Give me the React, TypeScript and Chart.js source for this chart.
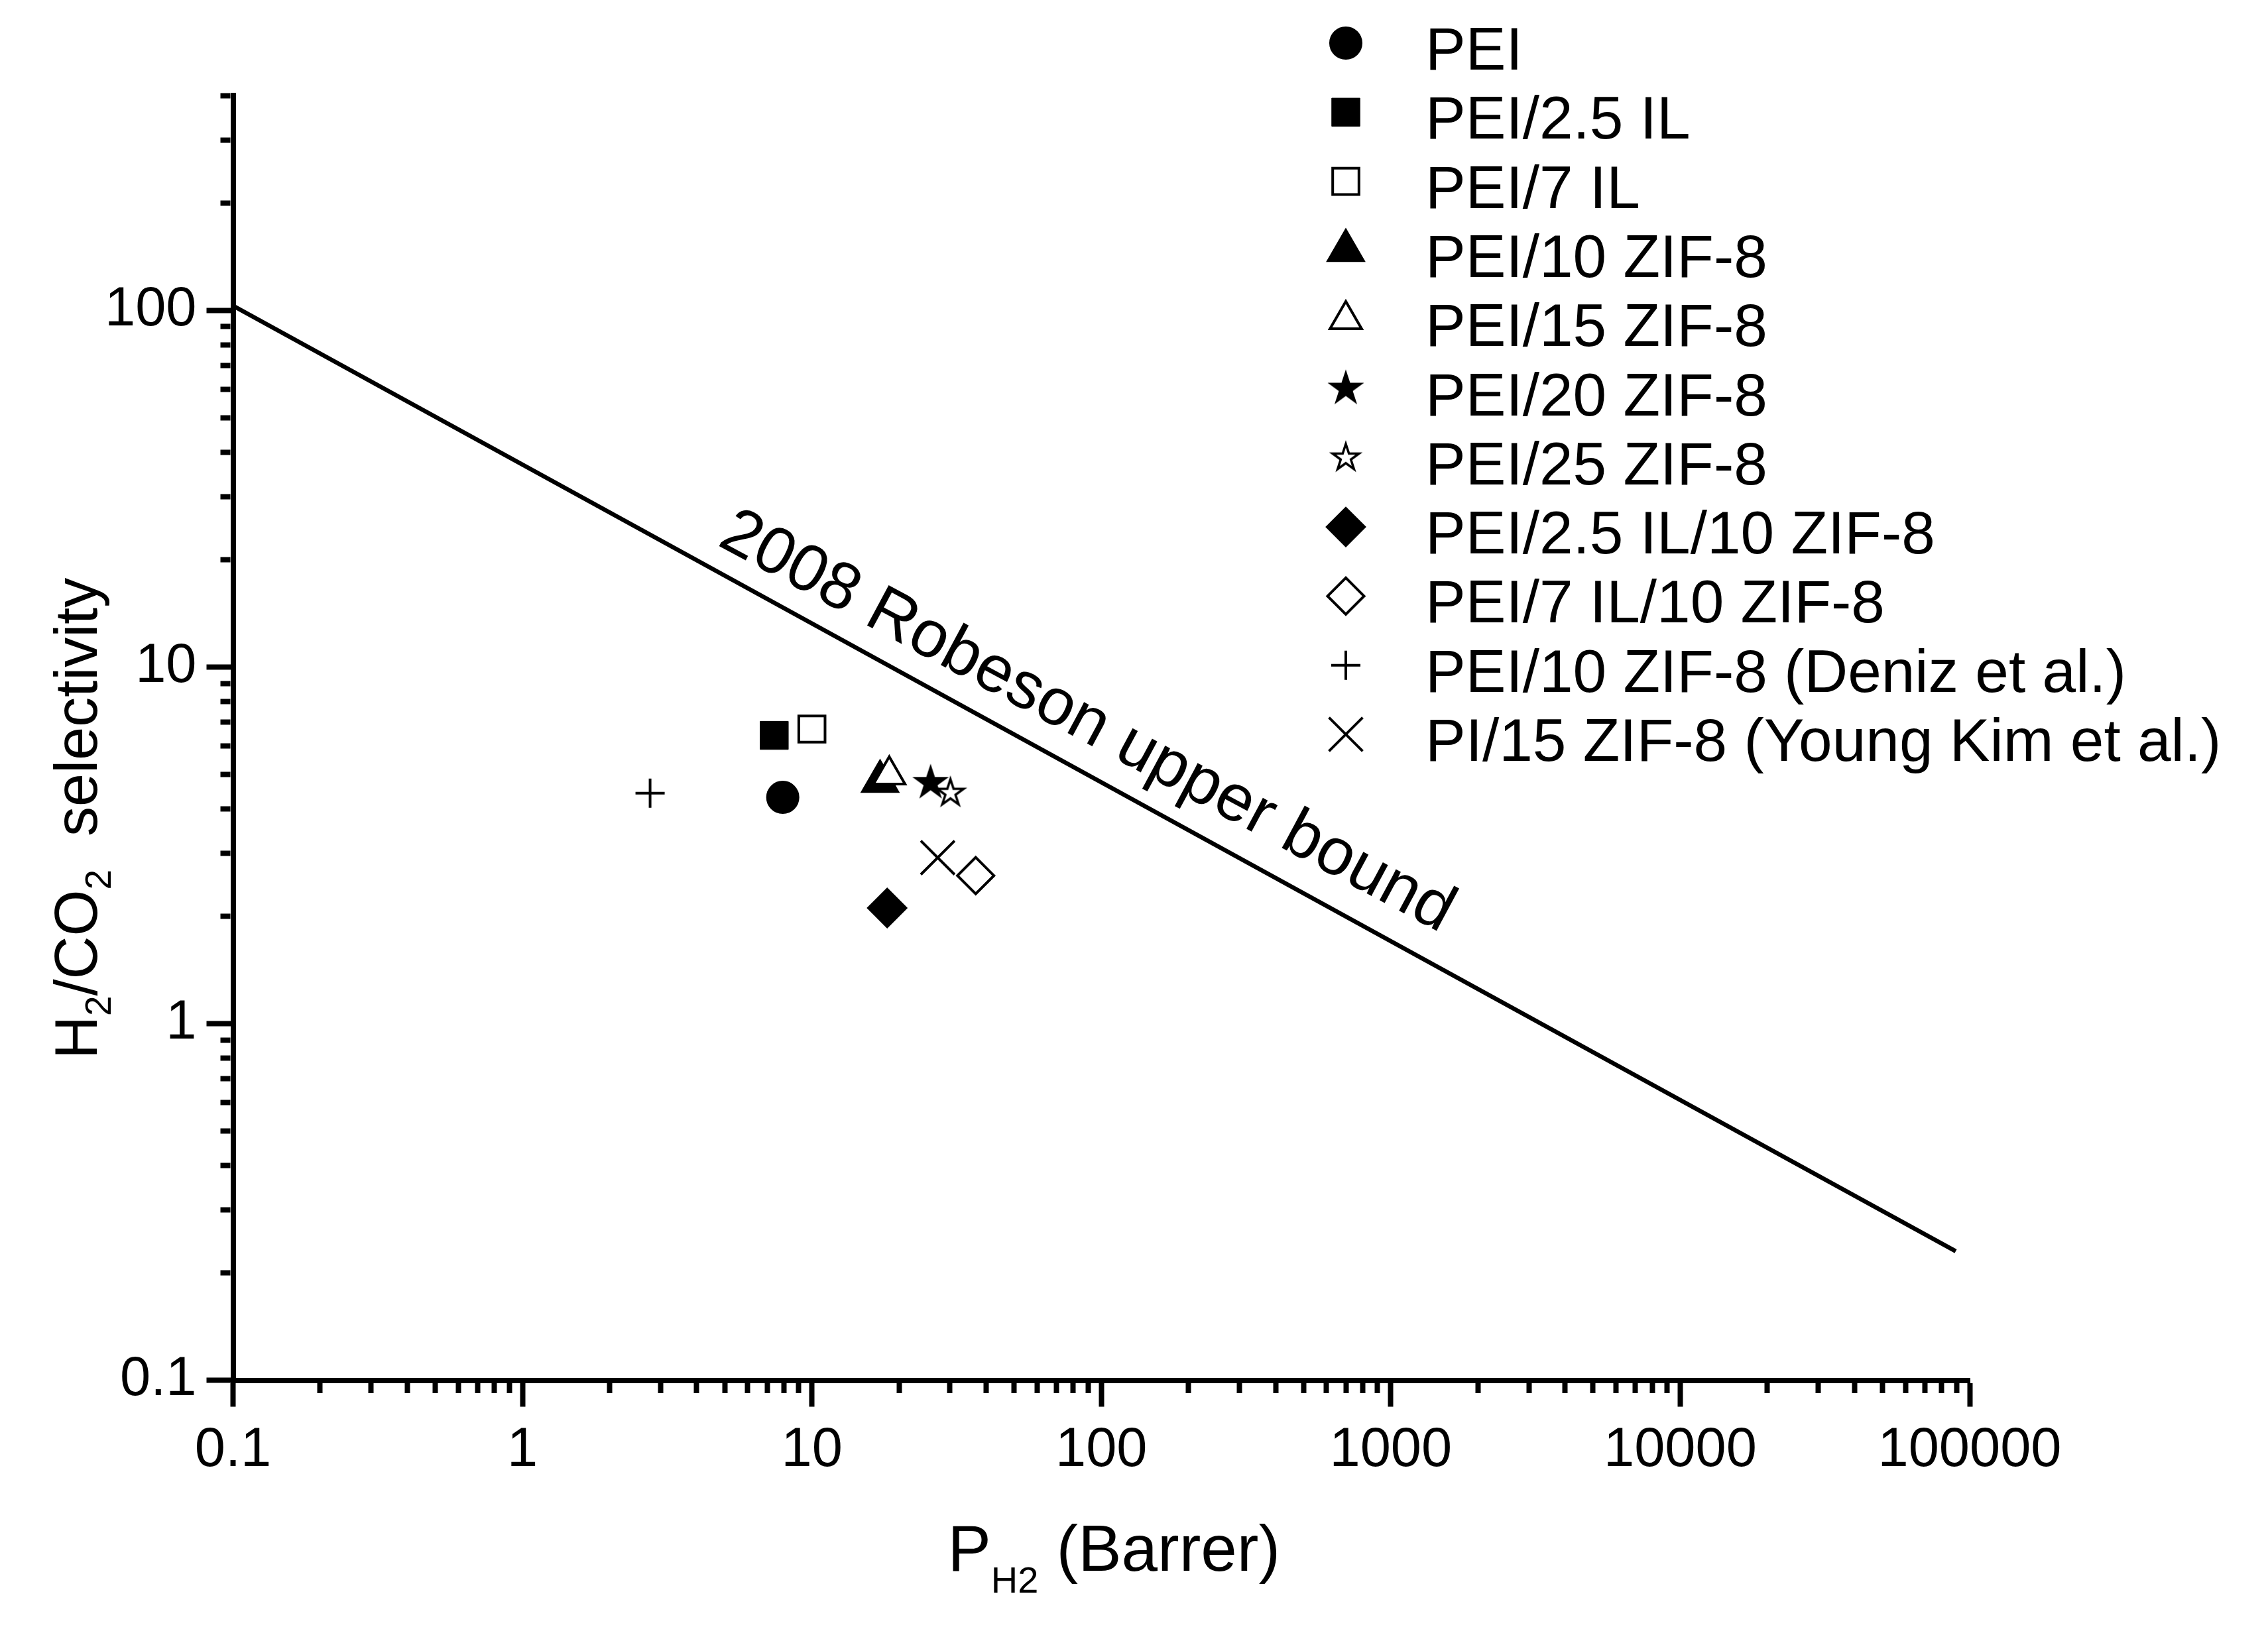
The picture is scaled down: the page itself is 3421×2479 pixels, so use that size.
import React, { useEffect, useRef } from 'react';
import { Chart, registerables, PointElement } from 'chart.js';

Chart.register(...registerables);

const FONT = "'Liberation Sans', Arial, Helvetica, sans-serif";

// ---------- data ----------
const SERIES_LABELS = [
  'PEI',
  'PEI/2.5 IL',
  'PEI/7 IL',
  'PEI/10 ZIF-8',
  'PEI/15 ZIF-8',
  'PEI/20 ZIF-8',
  'PEI/25 ZIF-8',
  'PEI/2.5 IL/10 ZIF-8',
  'PEI/7 IL/10 ZIF-8',
  'PEI/10 ZIF-8 (Deniz et al.)',
  'PI/15 ZIF-8 (Young Kim et al.)',
];
const P_H2 = [7.93, 7.41, 10.0, 17.2, 18.5, 25.7, 30.1, 18.2, 36.8, 2.76, 27.2];
const SELECTIVITY = [4.31, 6.43, 6.7, 4.78, 4.98, 4.73, 4.43, 2.11, 2.6, 4.43, 2.92];

const ROBESON_P = [0.1, 89500];
const ROBESON_SEL = [103, 0.23];
const ROBESON_LABEL = '2008 Robeson upper bound';
const ROBESON_LABEL_AT = 75; // x value (Barrer) of label centre

const X_DECADES = [0.1, 1, 10, 100, 1000, 10000, 100000];
const X_TICK_LABELS = ['0.1', '1', '10', '100', '1000', '10000', '100000'];
const Y_DECADES = [0.1, 1, 10, 100];
const Y_TICK_LABELS = ['0.1', '1', '10', '100'];
const X_MIN = 0.1;
const X_MAX = 100000;
const Y_MIN = 0.1;
const Y_MAX = 400;

const X_TITLE = ['P', 'H2', ' (Barrer)']; // main, subscript, rest
const Y_TITLE = ['H', '2', '/CO', '2', '  selectivity']; // alternating main / subscript

// ---------- helpers ----------
function logTicks(decades: number[], max: number) {
  const out: number[] = [];
  decades.forEach((d) => {
    for (let m = 1; m <= 9; m++) {
      const v = d * m;
      if (v <= max * 1.000001) out.push(v);
    }
  });
  return out;
}
function decadeIndex(v: number, decades: number[]) {
  return decades.findIndex((d) => Math.abs(v - d) < d * 1e-6);
}

function makeStar(R: number, lw: number, fill: string, stroke: string | null) {
  const c = document.createElement('canvas');
  const size = 2 * Math.ceil(R + lw * 3 + 2);
  c.width = size;
  c.height = size;
  const g = c.getContext('2d')!;
  const cx = size / 2;
  const cy = size / 2;
  g.beginPath();
  for (let k = 0; k < 10; k++) {
    const a = -Math.PI / 2 + (k * Math.PI) / 5;
    const r = k % 2 === 0 ? R : R * 0.382;
    const px = cx + r * Math.cos(a);
    const py = cy + r * Math.sin(a);
    if (k === 0) g.moveTo(px, py);
    else g.lineTo(px, py);
  }
  g.closePath();
  g.fillStyle = fill;
  g.fill();
  if (stroke) {
    g.lineWidth = lw;
    g.strokeStyle = stroke;
    g.lineJoin = 'miter';
    g.stroke();
  }
  return c;
}

const X_TICKS = logTicks(X_DECADES, X_MAX);
const Y_TICKS = logTicks(Y_DECADES, Y_MAX);

const MINOR_LEN = 15;
const TICK_LEN = 40;
const AXIS_W = 8;

export default function App() {
  const ref = useRef<HTMLCanvasElement>(null);

  useEffect(() => {
    document.body.style.margin = '0';
    const canvas = ref.current!;

    const starFilled = makeStar(29, 0, '#000', null);
    const starOpen = makeStar(21, 3.5, '#fff', '#000');

    const markers: any[] = [
      { style: 'circle', r: 24, fill: '#000', bw: 2 },
      { style: 'rect', r: 30, fill: '#000', bw: 1 },
      { style: 'rect', r: 28, fill: '#fff', bw: 4 },
      { style: 'triangle', r: 32.5, fill: '#000', bw: 2 },
      { style: 'triangle', r: 27.5, fill: '#fff', bw: 4 },
      { style: starFilled, r: 25, fill: '#000', bw: 0 },
      { style: starOpen, r: 25, fill: '#fff', bw: 0 },
      { style: 'rectRot', r: 29.5, fill: '#000', bw: 2 },
      { style: 'rectRot', r: 27.5, fill: '#fff', bw: 4 },
      { style: 'cross', r: 22, fill: '#000', bw: 4 },
      { style: 'crossRot', r: 36, fill: '#000', bw: 4 },
    ];

    const datasets: any[] = SERIES_LABELS.map((label, i) => ({
      label,
      data: [{ x: P_H2[i], y: SELECTIVITY[i] }],
      pointStyle: markers[i].style,
      pointRadius: markers[i].r,
      pointHoverRadius: markers[i].r,
      pointBorderWidth: markers[i].bw,
      pointHoverBorderWidth: markers[i].bw,
      pointBackgroundColor: markers[i].fill,
      pointHoverBackgroundColor: markers[i].fill,
      pointBorderColor: '#000',
      pointHoverBorderColor: '#000',
      order: -i,
      inLegend: true,
    }));
    datasets.push({
      label: ROBESON_LABEL,
      data: ROBESON_P.map((x, i) => ({ x, y: ROBESON_SEL[i] })),
      showLine: true,
      borderColor: '#000',
      borderWidth: 6.5,
      pointRadius: 0,
      pointHoverRadius: 0,
      order: 100,
      inLegend: false,
    });

    const overlay = {
      id: 'overlay',
      afterDraw(chart: any) {
        const ctx = chart.ctx as CanvasRenderingContext2D;
        const xs = chart.scales.x;
        const ys = chart.scales.y;
        const ca = chart.chartArea;

        // Robeson label along the line
        const x0 = xs.getPixelForValue(ROBESON_P[0]);
        const y0 = ys.getPixelForValue(ROBESON_SEL[0]);
        const x1 = xs.getPixelForValue(ROBESON_P[1]);
        const y1 = ys.getPixelForValue(ROBESON_SEL[1]);
        const ang = Math.atan2(y1 - y0, x1 - x0);
        const ax = xs.getPixelForValue(ROBESON_LABEL_AT);
        const t = (ax - x0) / (x1 - x0);
        const ay = y0 + t * (y1 - y0);
        const off = 41;
        ctx.save();
        ctx.translate(ax + off * Math.sin(ang), ay - off * Math.cos(ang));
        ctx.rotate(ang - (0.55 * Math.PI) / 180);
        ctx.font = `100px ${FONT}`;
        ctx.fillStyle = '#000';
        ctx.textAlign = 'center';
        ctx.textBaseline = 'alphabetic';
        ctx.fillText(ROBESON_LABEL, 0, 0);
        ctx.restore();

        // Legend
        const LX = 2030;
        const LY0 = 65;
        const LDY = 104.3;
        const LTX = 2150;
        const area = { left: 0, top: 0, right: chart.width, bottom: chart.height };
        let row = 0;
        chart.data.datasets.forEach((ds: any) => {
          if (!ds.inLegend) return;
          const cy = LY0 + row * LDY;
          const pt: any = new PointElement({
            x: LX,
            y: cy,
            options: {
              pointStyle: ds.pointStyle,
              radius: ds.pointRadius,
              rotation: 0,
              borderWidth: ds.pointBorderWidth,
              borderColor: ds.pointBorderColor,
              backgroundColor: ds.pointBackgroundColor,
            },
          } as any);
          ctx.save();
          pt.draw(ctx, area);
          ctx.restore();
          ctx.save();
          ctx.font = `91px ${FONT}`;
          ctx.fillStyle = '#000';
          ctx.textAlign = 'left';
          ctx.textBaseline = 'alphabetic';
          ctx.fillText(ds.label, LTX, cy + 40);
          ctx.restore();
          row++;
        });

        // X axis title with subscript
        ctx.save();
        ctx.fillStyle = '#000';
        ctx.textBaseline = 'alphabetic';
        ctx.textAlign = 'left';
        const mainX = `98px ${FONT}`;
        const subX = `56px ${FONT}`;
        ctx.font = mainX;
        const wP = ctx.measureText(X_TITLE[0]).width;
        const wRest = ctx.measureText(X_TITLE[2]).width;
        ctx.font = subX;
        const wSub = ctx.measureText(X_TITLE[1]).width;
        const totalX = wP + wSub + wRest;
        const cx = (ca.left + ca.right) / 2 + 19;
        const bx = cx - totalX / 2;
        const by = ca.bottom + 287.5;
        ctx.font = mainX;
        ctx.fillText(X_TITLE[0], bx, by);
        ctx.font = subX;
        ctx.fillText(X_TITLE[1], bx + wP, by + 33);
        ctx.font = mainX;
        ctx.fillText(X_TITLE[2], bx + wP + wSub, by);
        ctx.restore();

        // Y axis title (rotated) with subscripts
        ctx.save();
        ctx.fillStyle = '#000';
        ctx.textBaseline = 'alphabetic';
        ctx.textAlign = 'left';
        const mainY = `90px ${FONT}`;
        const subY = `55px ${FONT}`;
        const widths = Y_TITLE.map((s, i) => {
          ctx.font = i % 2 === 0 ? mainY : subY;
          return ctx.measureText(s).width;
        });
        const totalY = widths.reduce((a, b) => a + b, 0);
        const cyT = (ca.top + ca.bottom) / 2 + 121.5;
        ctx.translate(ca.left - 205.5, cyT + totalY / 2);
        ctx.rotate(-Math.PI / 2);
        let px = 0;
        Y_TITLE.forEach((s, i) => {
          const isSub = i % 2 === 1;
          ctx.font = isSub ? subY : mainY;
          ctx.fillText(s, px, isSub ? 21 : 0);
          px += widths[i];
        });
        ctx.restore();
      },
    };

    const chart = new Chart(canvas, {
      type: 'scatter',
      data: { datasets },
      options: {
        animation: false,
        responsive: false,
        devicePixelRatio: 1,
        events: [],
        layout: { padding: { top: 144.4, right: 450, bottom: 0, left: 0 } },
        plugins: {
          legend: { display: false },
          tooltip: { enabled: false },
          title: { display: false },
        },
        scales: {
          x: {
            type: 'logarithmic',
            position: 'bottom',
            min: X_MIN,
            max: X_MAX,
            afterBuildTicks: (s: any) => {
              s.ticks = X_TICKS.map((v) => ({ value: v }));
            },
            afterFit: (s: any) => {
              s.height = 396.5;
            },
            ticks: {
              autoSkip: false,
              maxRotation: 0,
              minRotation: 0,
              padding: 17,
              color: '#000',
              font: { family: FONT, size: 83 },
              callback: (v: any) => {
                const i = decadeIndex(Number(v), X_DECADES);
                return i >= 0 ? X_TICK_LABELS[i] : '';
              },
            },
            grid: {
              drawOnChartArea: false,
              drawTicks: true,
              tickLength: TICK_LEN,
              tickWidth: AXIS_W,
              tickColor: '#000',
              tickBorderDash: (c: any) =>
                c.tick && decadeIndex(c.tick.value, X_DECADES) >= 0 ? [] : [MINOR_LEN, 1000],
              tickBorderDashOffset: 0,
            },
            border: { display: true, color: '#000', width: AXIS_W },
          } as any,
          y: {
            type: 'logarithmic',
            position: 'left',
            min: Y_MIN,
            max: Y_MAX,
            afterBuildTicks: (s: any) => {
              s.ticks = Y_TICKS.map((v) => ({ value: v }));
            },
            afterFit: (s: any) => {
              s.width = 351.5;
            },
            ticks: {
              autoSkip: false,
              padding: 15,
              color: '#000',
              font: { family: FONT, size: 83 },
              callback: (v: any) => {
                const i = decadeIndex(Number(v), Y_DECADES);
                return i >= 0 ? Y_TICK_LABELS[i] : '';
              },
            },
            grid: {
              drawOnChartArea: false,
              drawTicks: true,
              tickLength: TICK_LEN,
              tickWidth: AXIS_W,
              tickColor: '#000',
              tickBorderDash: (c: any) =>
                c.tick && decadeIndex(c.tick.value, Y_DECADES) >= 0 ? [] : [MINOR_LEN, 1000],
              tickBorderDashOffset: (c: any) =>
                c.tick && decadeIndex(c.tick.value, Y_DECADES) >= 0
                  ? 0
                  : MINOR_LEN + 1000 - (TICK_LEN - AXIS_W / 2 - MINOR_LEN),
            },
            border: { display: true, color: '#000', width: AXIS_W },
          } as any,
        },
      },
      plugins: [overlay],
    } as any);

    return () => chart.destroy();
  }, []);

  return (
    <div style={{ position: 'absolute', left: 0, top: 0, width: 3421, height: 2479, background: '#fff' }}>
      <canvas ref={ref} width={3421} height={2479} style={{ display: 'block', width: 3421, height: 2479 }} />
    </div>
  );
}
